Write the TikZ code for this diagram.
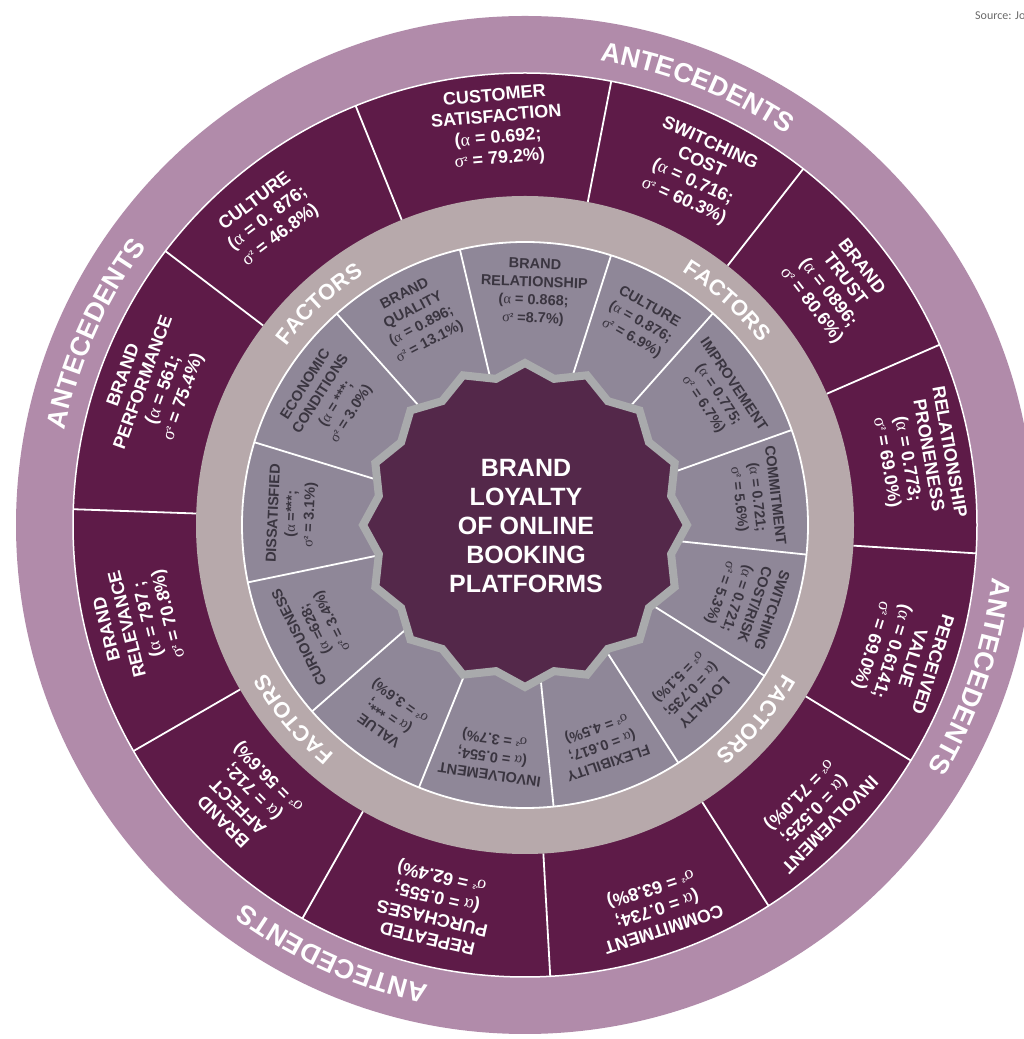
\documentclass[tikz,border=0pt]{standalone}
\usepackage{fontspec}
\setmainfont{Liberation Sans}
\newfontfamily\grkfont{Liberation Serif}
\newfontfamily\srcfont{Carlito}
\usetikzlibrary{decorations.text}
\definecolor{band}{HTML}{B18BAA}
\definecolor{darkring}{HTML}{5E1B48}
\definecolor{greyband}{HTML}{B7A9AB}
\definecolor{innersec}{HTML}{8F8798}
\definecolor{starfill}{HTML}{54284A}
\definecolor{starline}{HTML}{A9AAAC}
\definecolor{intext}{HTML}{3A3540}
\definecolor{srcgray}{HTML}{6A6A6A}
\newcommand\ALF{{\grkfont\mdseries α}}
\newcommand\SIG{{\grkfont\mdseries σ}\raisebox{0.6ex}{\fontsize{6}{6}\selectfont 2}}
\newcommand\osec[5]{\node[outtxt, rotate={#3}] (#1) at ([shift={(#2:#4)}]C) {#5};}
\newcommand\isec[3]{\node[intxt, rotate={#2-90}] (#1) at ([shift={(#2:233)}]C) {#3};}
\newcommand\arctext[4]{\path[decorate, decoration={text along path, text align=center, text={#4}}] ([shift={({#1+#2}:#3)}]C) arc[start angle={#1+#2}, end angle={#1-#2}, radius=#3];}
\begin{document}
\begin{tikzpicture}[x=1pt,y=1pt,
  outtxt/.style={text=white, font=\bfseries\fontsize{18}{21}\selectfont, align=center, inner sep=0pt},
  intxt/.style={text=intext, font=\bfseries\fontsize{14.5}{18}\selectfont, align=center, inner sep=0pt},
  sepline/.style={white, line width=1.8pt},
  titletxt/.style={text=white, font=\bfseries\fontsize{25}{29}\selectfont, align=center, inner sep=0pt}]
\useasboundingbox (0,0) rectangle (1024,1039);
\clip (0,0) rectangle (1024,1039);
\fill[white] (0,0) rectangle (1024,1039);
\coordinate (C) at (525,514);
% outer band and dark ring
\fill[band] (C) circle[radius=509];
\fill[darkring] (C) circle[radius=452];
\draw[white, line width=1.5pt] (C) circle[radius=452];
\foreach \a in {112,79,52,23.5,-3.6,-31.4,-57.4,-86.8,-119.5,-150,-182,-217.3}
  \draw[sepline] ([shift={(\a:329)}]C) -- ([shift={(\a:452)}]C);
% factors band and inner sectors
\fill[greyband] (C) circle[radius=329];
\fill[innersec] (C) circle[radius=283];
\draw[white, line width=1.8pt] (C) circle[radius=283];
\foreach \a in {163,131.7,103.3,72.3,48.4,19.6,-6,-32.2,-57.2,-84.2,-112,-138.8,-168.3}
  \draw[sepline] ([shift={(\a:150)}]C) -- ([shift={(\a:283)}]C);
% central seal
\draw[fill=starfill, draw=starline, line width=8pt, line join=miter]
  plot[samples at={0,...,31}, variable=\k]
  ({525+(155.5+6.5*cos(\k*180))*cos(90+\k*11.25)}, {514+(155.5+6.5*cos(\k*180))*sin(90+\k*11.25)}) -- cycle;
\node[titletxt] (title) at ([shift={(1,-1)}]C) {BRAND\\LOYALTY\\OF ONLINE\\BOOKING\\PLATFORMS};
% outer sector texts
\osec{o1}{94}{5}{398}{CUSTOMER\\SATISFACTION\\(\ALF\ = 0.692;\\\SIG\ = 79.2\%)}
\osec{o2}{130}{37}{400}{CULTURE\\(\ALF\ = 0. 876;\\\SIG\ = 46.8\%)}
\osec{o3}{159.5}{70}{396}{BRAND\\PERFORMANCE\\(\ALF\ = 561;\\\SIG\ = 75.4\%)}
\osec{o4}{194}{104}{398}{BRAND\\RELEVANCE\\(\ALF\ = 797 ;\\\SIG\ = 70.8\%)}
\osec{o5}{224.5}{135}{390}{BRAND\\AFFECT\\(\ALF\ = 712;\\\SIG\ = 56.6\%)}
\osec{o6}{256.7}{167}{392}{REPEATED\\PURCHASES\\(\ALF\ = 0.555;\\\SIG\ = 62.4\%)}
\osec{o7}{289}{198}{405}{COMMITMENT\\(\ALF\ = 0.734;\\\SIG\ = 63.8\%)}
\osec{o8}{315.5}{225.6}{405}{INVOLVEMENT\\(\ALF\ = 0.525;\\\SIG\ = 71.0\%)}
\osec{o9}{341}{252.5}{398}{PERCEIVED\\VALUE\\(\ALF\ = 0.6141;\\\SIG\ = 69.0\%)}
\osec{o10}{9.8}{-80}{398}{RELATIONSHIP\\PRONENESS\\(\ALF\ = 0.773;\\\SIG\ = 69.0\%)}
\osec{o11}{37.5}{-52.3}{392}{BRAND\\TRUST\\(\ALF\ = 0896;\\\SIG\ = 80.6\%)}
\osec{o12}{64}{-24.5}{392}{SWITCHING\\COST\\(\ALF\ = 0.716;\\\SIG\ = 60.3\%)}
% inner sector texts
\isec{i1}{87.8}{BRAND\\RELATIONSHIP\\(\ALF\ = 0.868;\\\SIG\ =8.7\%)}
\isec{i2}{60.35}{CULTURE\\(\ALF\ = 0.876;\\\SIG\ = 6.9\%)}
\isec{i3}{34}{IMPROVEMENT\\(\ALF\ = 0.775;\\\SIG\ = 6.7\%)}
\isec{i4}{6.8}{COMMITMENT\\(\ALF\ = 0.721;\\\SIG\ = 5.6\%)}
\isec{i5}{-19.1}{SWITCHING\\COST/RISK\\(\ALF\ = 0.721;\\\SIG\ = 5.3\%)}
\isec{i6}{-44.7}{LOYALTY\\(\ALF\ = 0.735;\\\SIG\ = 5.1\%)}
\isec{i7}{-70.7}{FLEXIBILITY\\(\ALF\ = 0.617;\\\SIG\ = 4.5\%)}
\isec{i8}{-98.1}{INVOLVEMENT\\(\ALF\ = 0.554;\\\SIG\ = 3.7\%)}
\isec{i9}{-125.4}{VALUE\\(\ALF\ = ***;\\\SIG\ = 3.6\%)}
\isec{i10}{-153.55}{CURIOUSNESS\\(\ALF\ =628;\\\SIG\ = 3.4\%)}
\isec{i11}{177.35}{DISSATISFIED\\(\ALF\ =***;\\\SIG\ = 3.1\%)}
\isec{i12}{147.35}{ECONOMIC\\CONDITIONS\\(\ALF\ = ***;\\\SIG\ = 3.0\%)}
\isec{i13}{117.5}{BRAND\\QUALITY\\(\ALF\ = 0.896;\\\SIG\ = 13.1\%)}
% curved band labels
\arctext{68.5}{30}{470}{|\bfseries\fontsize{27}{27}\selectfont\color{white}|ANTECEDENTS}
\arctext{156}{30}{470}{|\bfseries\fontsize{27}{27}\selectfont\color{white}|ANTECEDENTS}
\arctext{-18.8}{30}{470}{|\bfseries\fontsize{27}{27}\selectfont\color{white}|ANTECEDENTS}
\arctext{245.8}{30}{470}{|\bfseries\fontsize{27}{27}\selectfont\color{white}|ANTECEDENTS}
\arctext{133}{30}{298}{|\bfseries\fontsize{22}{22}\selectfont\color{white}|FACTORS}
\arctext{48}{30}{298}{|\bfseries\fontsize{22}{22}\selectfont\color{white}|FACTORS}
\arctext{-40}{30}{298}{|\bfseries\fontsize{22}{22}\selectfont\color{white}|FACTORS}
\arctext{220}{30}{298}{|\bfseries\fontsize{22}{22}\selectfont\color{white}|FACTORS}
% source note
\node[anchor=west, text=srcgray, font=\srcfont\fontsize{12}{12}\selectfont, inner sep=0pt] (src) at (975,1023) {Source: Jo};
\end{tikzpicture}
\end{document}
